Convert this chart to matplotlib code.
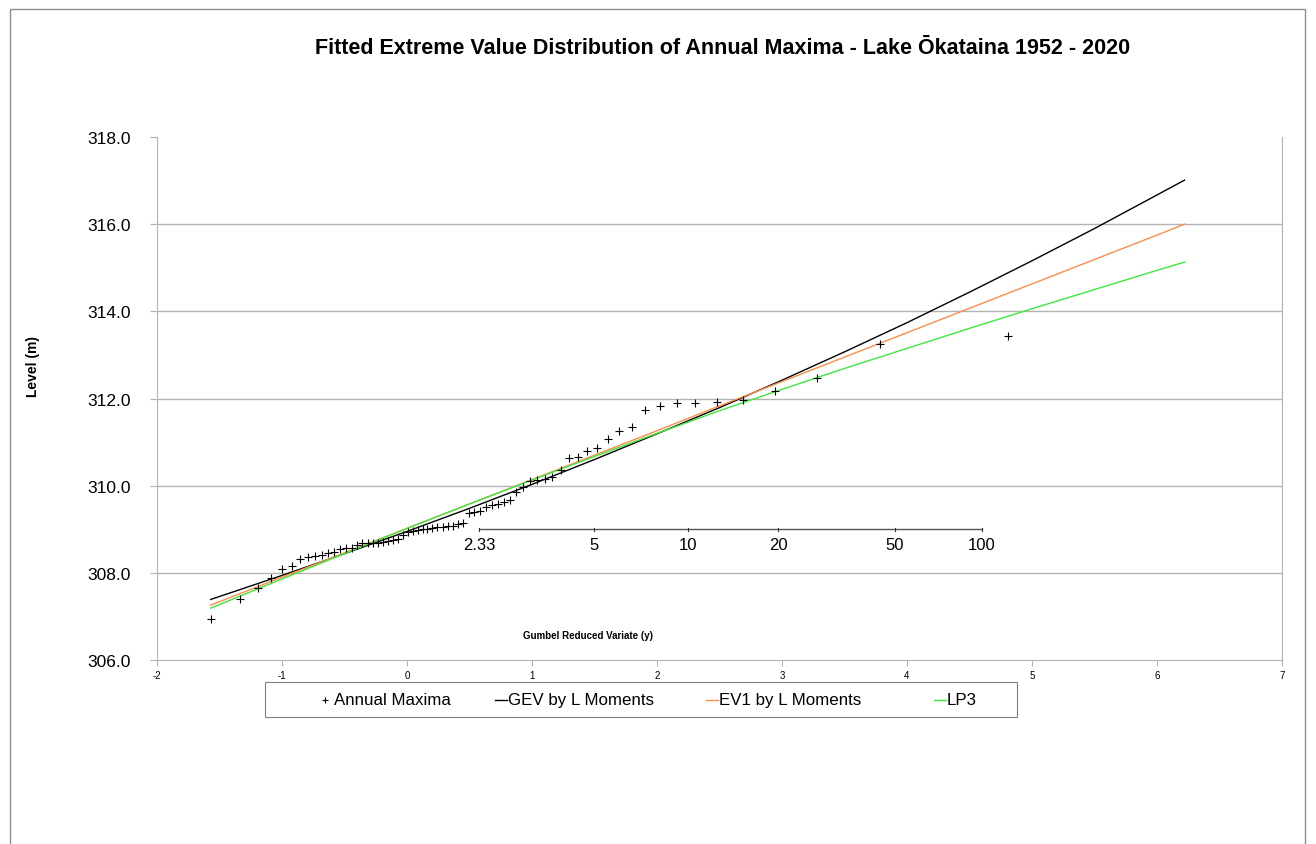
import numpy as np
import matplotlib
matplotlib.use("Agg")
from matplotlib import pyplot as plt
from matplotlib.patches import Rectangle
from matplotlib.lines import Line2D

plt.rcParams['font.family'] = ['Liberation Sans', 'DejaVu Sans']
plt.rcParams['axes.unicode_minus'] = False

# annual maxima (Gumbel reduced variate, level m)
am_y = [-1.572, -1.333, -1.193, -1.087, -1.000, -0.924, -0.857, -0.794, -0.737, -0.682,
        -0.631, -0.581, -0.534, -0.488, -0.443, -0.400, -0.357, -0.315, -0.274, -0.233,
        -0.193, -0.153, -0.113, -0.074, -0.034, 0.005, 0.045, 0.084, 0.124, 0.163,
        0.203, 0.243, 0.284, 0.325, 0.367, 0.408, 0.451, 0.494, 0.539, 0.583,
        0.629, 0.676, 0.724, 0.773, 0.823, 0.875, 0.929, 0.984, 1.041, 1.101,
        1.163, 1.228, 1.295, 1.367, 1.442, 1.521, 1.607, 1.698, 1.797, 1.905,
        2.023, 2.156, 2.306, 2.478, 2.685, 2.940, 3.277, 3.780, 4.810]
am_level = [306.94, 307.40, 307.65, 307.88, 308.08, 308.16, 308.32, 308.37, 308.39, 308.41,
            308.45, 308.48, 308.54, 308.56, 308.56, 308.64, 308.68, 308.68, 308.68, 308.68,
            308.71, 308.73, 308.75, 308.78, 308.86, 308.93, 308.96, 308.98, 309.01, 309.01,
            309.02, 309.05, 309.06, 309.08, 309.08, 309.11, 309.14, 309.37, 309.40, 309.41,
            309.50, 309.56, 309.58, 309.63, 309.66, 309.85, 309.96, 310.11, 310.14, 310.15,
            310.19, 310.36, 310.63, 310.66, 310.80, 310.86, 311.06, 311.25, 311.34, 311.74,
            311.83, 311.89, 311.89, 311.91, 311.96, 312.18, 312.46, 313.24, 313.44]

# fitted curves
fit_y = [-1.57, -1.0, -0.5, 0.0, 0.5, 1.0, 1.5, 2.0, 2.5, 3.0, 3.5, 4.0, 4.5, 5.0, 5.5, 6.0, 6.22]
gev = [307.39, 307.94, 308.44, 308.95, 309.48, 310.03, 310.60, 311.19, 311.79, 312.42,
       313.07, 313.74, 314.44, 315.16, 315.90, 316.67, 317.01]
ev1 = [307.26, 307.90, 308.46, 309.02, 309.58, 310.14, 310.70, 311.26, 311.83, 312.39,
       312.95, 313.51, 314.07, 314.63, 315.19, 315.75, 316.00]
lp3 = [307.19, 307.86, 308.44, 309.02, 309.58, 310.13, 310.67, 311.20, 311.72, 312.21,
       312.69, 313.15, 313.61, 314.06, 314.50, 314.94, 315.13]

return_periods = [2.33, 5, 10, 20, 50, 100]
return_labels = ["2.33", "5", "10", "20", "50", "100"]
rp_level = 309.0

fig = plt.figure(figsize=(13.16, 8.45), dpi=100)
ax = fig.add_axes([157/1316, 1-661/845, 1125/1316, 523/845])

grid_col = "#b3b3b3"
for lv in [308, 310, 312, 314, 316]:
    ax.axhline(lv, color=grid_col, lw=1.0, zorder=0)

ax.plot(fit_y, gev, color="black", lw=1.0, zorder=3)
ax.plot(fit_y, ev1, color="#ff8c4a", lw=1.0, zorder=3)
ax.plot(fit_y, lp3, color="#3ee83e", lw=1.0, zorder=3)
ax.plot(am_y, am_level, ls="none", marker="+", color="black", ms=6, mew=0.8, zorder=4)

# return period axis
rp_x = [-np.log(-np.log(1 - 1/t)) for t in return_periods]
ax.plot([rp_x[0], rp_x[-1]], [rp_level, rp_level], color="#555555", lw=1.0, zorder=2)
for xv, lab in zip(rp_x, return_labels):
    ax.plot([xv, xv], [rp_level - 0.04, rp_level + 0.04], color="#333333", lw=0.8)
    ax.text(xv, rp_level - 0.18, lab, ha="center", va="top", fontsize=12)

ax.set_xlim(-2, 7)
ax.set_ylim(306, 318)
ax.set_xticks(range(-2, 8))
ax.set_yticks([306, 308, 310, 312, 314, 316, 318])
ax.set_yticklabels([f"{v:.1f}" for v in [306, 308, 310, 312, 314, 316, 318]], fontsize=12.5)
ax.tick_params(axis="x", labelsize=7, length=4, color=grid_col, pad=3)
ax.tick_params(axis="y", length=5, color=grid_col, pad=14)
for s in ["left", "right", "bottom"]:
    ax.spines[s].set_color(grid_col)
ax.spines["top"].set_visible(False)

ax.text(0.383, 0.048, "Gumbel Reduced Variate (y)", transform=ax.transAxes,
        ha="center", va="center", fontsize=7, fontweight="bold")
fig.text(33/1316, 1-367/845, "Level (m)", rotation=90, ha="center", va="center",
         fontsize=10, fontweight="bold")
fig.text(723/1316, 1-48/845, "Fitted Extreme Value Distribution of Annual Maxima - Lake Ōkataina 1952 - 2020",
         ha="center", va="center", fontsize=15.5, fontweight="bold")

# legend drawn by hand to keep Excel-like spacing
fig.add_artist(Rectangle((265/1316, 1-718/845), 752/1316, 35/845, transform=fig.transFigure,
                         fill=False, edgecolor="#7f7f7f", lw=0.8))
ly = 1 - 701/845
fig.add_artist(Line2D([325/1316], [ly], marker="+", color="black", ms=5, mew=0.8, transform=fig.transFigure))
fig.text(334/1316, ly, "Annual Maxima", va="center", fontsize=12.2)
leg_items = [(495, "black", "GEV by L Moments"), (706, "#ff8c4a", "EV1 by L Moments"), (934, "#3ee83e", "LP3")]
for px, col, lab in leg_items:
    fig.add_artist(Line2D([px/1316, (px+12)/1316], [ly, ly], color=col, lw=1.0, transform=fig.transFigure))
    fig.text((px+13)/1316, ly, lab, va="center", fontsize=12.2)

# outer chart frame
fig.add_artist(Rectangle((10/1316, -0.01), 1295/1316, 1-10/845+0.01, transform=fig.transFigure,
                         fill=False, edgecolor="#8c8c8c", lw=1.0))

fig.savefig("out.png", dpi=100)
